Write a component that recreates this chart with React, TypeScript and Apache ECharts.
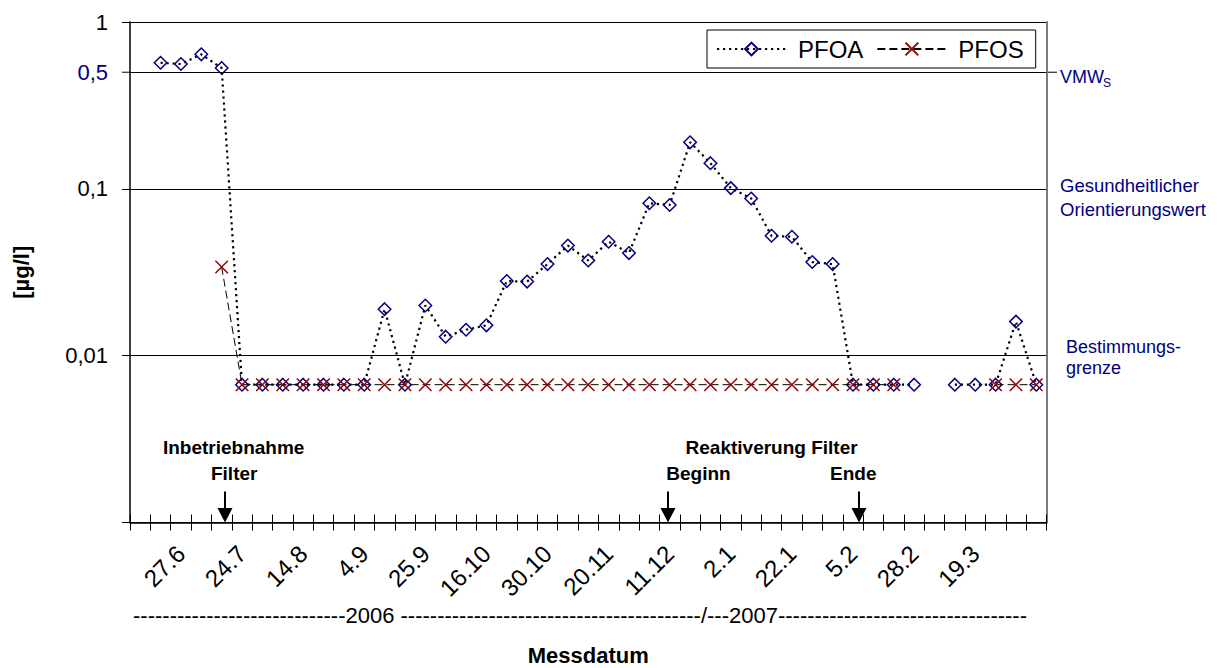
import React, { useEffect, useRef } from 'react';
import * as echarts from 'echarts';

// Category axis (one empty slot at the start, labels every third sample)
const categories: string[] = [
  '', '', '27.6', '', '', '24.7', '', '', '14.8', '', '',
  '4.9', '', '', '25.9', '', '', '16.10', '', '', '30.10', '', '',
  '20.11', '', '', '11.12', '', '', '2.1', '', '', '22.1', '', '',
  '5.2', '', '', '28.2', '', '', '19.3', '', '', '',
];

// PFOA [µg/l]
const pfoa: (number | null)[] = [
  null, 0.57, 0.56, 0.64, 0.53,
  0.0067, 0.0067, 0.0067, 0.0067, 0.0067, 0.0067, 0.0067,
  0.019, 0.0067, 0.020, 0.013, 0.0143, 0.0152, 0.028, 0.0278,
  0.0354, 0.0457, 0.0372, 0.0482, 0.0412, 0.082, 0.080, 0.19,
  0.1425, 0.101, 0.0875, 0.0523, 0.0516, 0.0364, 0.0354,
  0.0067, 0.0067, 0.0067, 0.0067, null, 0.0067, 0.0067, 0.0067,
  0.016, 0.0067,
];

// PFOS [µg/l]
const pfos: (number | null)[] = [
  null, null, null, null, 0.034,
  0.0067, 0.0067, 0.0067, 0.0067, 0.0067, 0.0067, 0.0067, 0.0067,
  0.0067, 0.0067, 0.0067, 0.0067, 0.0067, 0.0067, 0.0067, 0.0067,
  0.0067, 0.0067, 0.0067, 0.0067, 0.0067, 0.0067, 0.0067, 0.0067,
  0.0067, 0.0067, 0.0067, 0.0067, 0.0067, 0.0067, 0.0067, 0.0067,
  0.0067, null, null, null, null, 0.0067, 0.0067, 0.0067,
];

const yTickLabels: Record<string, string> = { '0': '1', '-1': '0,1', '-2': '0,01', '-3': '' };
const limitValue = 0.5;
const healthValue = 0.1;
const quantValue = 0.01;

const FONT = 'Liberation Sans, Arial, sans-serif';
const NAVY = '#000080';
const RED = '#990000';

export default function App() {
  const ref = useRef<HTMLDivElement>(null);
  useEffect(() => {
    if (!ref.current) return;
    const chart = echarts.init(ref.current, undefined, { renderer: 'svg' });
    const gridLeft = 130;
    const gridRight = 1046.5;
    const gridTop = 22;
    const gridBottom = 522.5;
    const option: any = {
      animation: false,
      textStyle: { fontFamily: FONT },
      grid: {
        left: gridLeft,
        right: 1217 - gridRight,
        top: gridTop,
        bottom: 668 - gridBottom,
        containLabel: false,
        outerBoundsMode: 'none',
      },
      legend: {
        left: 707,
        top: 30,
        orient: 'horizontal',
        itemWidth: 69,
        itemHeight: 16,
        itemGap: 13,
        padding: [7, 12, 7, 9],
        borderColor: '#000',
        borderWidth: 1,
        backgroundColor: '#fff',
        selectedMode: false,
        textStyle: { fontSize: 24, color: '#000', fontFamily: FONT, padding: [0, 0, 0, 7] },
        data: ['PFOA', 'PFOS'],
      },
      xAxis: [
        {
          type: 'category',
          data: categories,
          boundaryGap: true,
          axisLine: { show: true, lineStyle: { color: '#000', width: 1.5 } },
          axisTick: { show: true, interval: 0, length: 8, lineStyle: { color: '#000', width: 1 } },
          axisLabel: { interval: 0, rotate: 45, fontSize: 24, color: '#000', margin: 27, fontFamily: FONT },
          splitLine: { show: false },
          name: 'Messdatum',
          nameLocation: 'middle',
          nameGap: 122,
          nameTextStyle: { fontSize: 22, fontWeight: 'bold', color: '#000', fontFamily: FONT },
        },
        {
          type: 'category',
          data: categories,
          position: 'bottom',
          boundaryGap: true,
          axisLine: { show: false },
          axisTick: { show: true, inside: true, interval: 0, length: 8, lineStyle: { color: '#000', width: 1 } },
          axisLabel: { show: false },
          splitLine: { show: false },
        },
      ],
      yAxis: [
        {
          type: 'log',
          logBase: 10,
          min: 0.001,
          max: 1,
          axisLine: { show: true, lineStyle: { color: '#000', width: 1.5 } },
          axisTick: { show: true, length: 8, lineStyle: { color: '#000', width: 1 } },
          axisLabel: {
            fontSize: 22,
            color: '#000',
            margin: 22,
            fontFamily: FONT,
            formatter: (v: number) => {
              const k = String(Math.round(Math.log10(v)));
              return yTickLabels[k] ?? '';
            },
          },
          splitLine: { show: true, lineStyle: { color: '#000', width: 1 } },
          name: '[µg/l]',
          nameLocation: 'middle',
          nameGap: 98,
          nameRotate: 90,
          nameTextStyle: { fontSize: 22, fontWeight: 'bold', color: '#000', fontFamily: FONT },
        },
        {
          type: 'log',
          logBase: 10,
          min: 0.001,
          max: 1,
          position: 'right',
          axisLine: { show: true, lineStyle: { color: '#7a7a7a', width: 2 } },
          axisTick: { show: false },
          axisLabel: { show: false },
          splitLine: { show: false },
        },
      ],
      series: [
        {
          name: 'PFOA',
          type: 'line',
          data: pfoa,
          showAllSymbol: true,
          connectNulls: false,
          symbol: 'diamond',
          symbolSize: 12.5,
          lineStyle: { color: '#000', width: 2.2, type: [2.2, 3.8] },
          itemStyle: { color: 'rgba(255,255,255,0)', borderColor: NAVY, borderWidth: 1.5 },
          markLine: {
            silent: true,
            symbol: ['none', 'none'],
            label: { show: false },
            lineStyle: { color: '#000', width: 1, type: 'solid' },
            data: [{ yAxis: limitValue }],
          },
          z: 2,
        },
        {
          name: 'PFOS',
          type: 'line',
          data: pfos,
          showAllSymbol: true,
          connectNulls: false,
          symbol: 'path://M0,0L10,10M10,0L0,10',
          symbolSize: 12.5,
          symbolKeepAspect: true,
          lineStyle: { color: '#000', width: 1, type: [8, 4] },
          itemStyle: { color: 'rgba(255,255,255,0)', borderColor: RED, borderWidth: 1.5 },
          z: 3,
        },
      ],
    };
    chart.setOption(option);

    const y05 = chart.convertToPixel({ yAxisIndex: 0 }, limitValue) as number;
    const y01 = chart.convertToPixel({ yAxisIndex: 0 }, healthValue) as number;
    const y001 = chart.convertToPixel({ yAxisIndex: 0 }, quantValue) as number;

    const txt = (text: string, x: number, y: number, size: number, opts: any = {}) => ({
      type: 'text',
      x,
      y,
      silent: true,
      style: {
        text,
        fill: opts.fill ?? '#000',
        fontSize: size,
        fontFamily: FONT,
        fontWeight: opts.bold ? 'bold' : 'normal',
        align: opts.align ?? 'left',
        verticalAlign: 'middle',
      },
    });
    const arrow = (x: number) => [
      { type: 'line', silent: true, shape: { x1: x, y1: 491.5, x2: x, y2: 510 }, style: { stroke: '#000', lineWidth: 2 } },
      {
        type: 'polygon',
        silent: true,
        shape: { points: [[x - 7.5, 508], [x + 7.5, 508], [x, gridBottom]] },
        style: { fill: '#000' },
      },
    ];
    const years = '-'.repeat(29) + '2006 ' + '-'.repeat(41) + '/---2007' + '-'.repeat(34);

    chart.setOption({
      graphic: [
        { type: 'line', silent: true, shape: { x1: gridLeft - 8, y1: y05, x2: gridLeft, y2: y05 }, style: { stroke: '#000', lineWidth: 1 } },
        { type: 'line', silent: true, shape: { x1: gridRight, y1: y05, x2: 1057, y2: y05 }, style: { stroke: '#000', lineWidth: 1 } },
        txt('0,5', 108, y05, 22, { fill: NAVY, align: 'right' }),
        txt('VMW', 1060, y05 + 4.7, 18, { fill: NAVY }),
        txt('S', 1103, y05 + 10.5, 12, { fill: NAVY }),
        txt('Gesundheitlicher', 1060, y01 - 3.5, 18.5, { fill: NAVY }),
        txt('Orientierungswert', 1060, y01 + 20.5, 18.5, { fill: NAVY }),
        txt('Bestimmungs-', 1066, y001 - 8.7, 18, { fill: NAVY }),
        txt('grenze', 1066, y001 + 12, 18, { fill: NAVY }),
        txt('Inbetriebnahme', 233.7, 447.4, 19, { bold: true, align: 'center' }),
        txt('Filter', 234.2, 473.4, 19, { bold: true, align: 'center' }),
        txt('Reaktiverung Filter', 771.6, 447.4, 19, { bold: true, align: 'center' }),
        txt('Beginn', 698.5, 473.4, 19, { bold: true, align: 'center' }),
        txt('Ende', 853.3, 473.4, 19, { bold: true, align: 'center' }),
        ...arrow(225),
        ...arrow(668),
        ...arrow(859),
        txt(years, 133, 615, 22),
      ],
    });

    return () => chart.dispose();
  }, []);
  return <div ref={ref} style={{ position: 'fixed', left: 0, top: 0, width: 1217, height: 668, background: '#fff' }} />;
}
